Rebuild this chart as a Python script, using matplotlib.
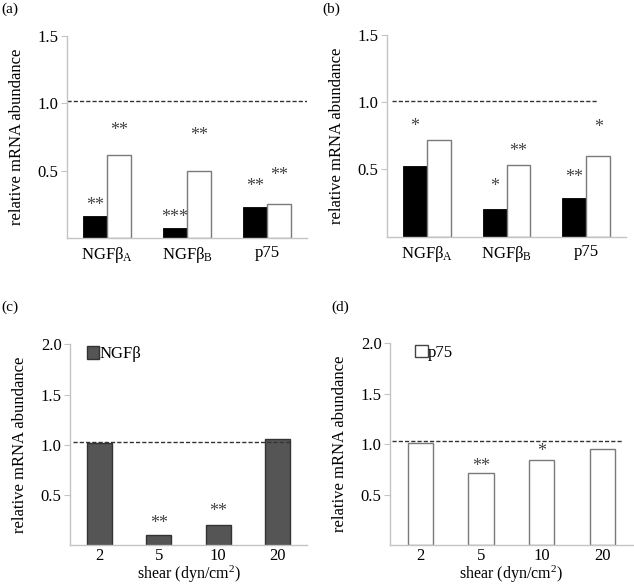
import matplotlib
matplotlib.use("Agg")
import matplotlib.pyplot as plt
from matplotlib.patches import Patch
import numpy as np

plt.rcParams['font.family'] = 'serif'
plt.rcParams['font.serif'] = ['Liberation Serif', 'DejaVu Serif']
plt.rcParams['mathtext.fontset'] = 'custom'
plt.rcParams['mathtext.rm'] = 'Liberation Serif'
plt.rcParams['mathtext.it'] = 'Liberation Serif:italic'

# ---- data ----
genes = ["NGFβ$_{\\mathrm{A}}$", "NGFβ$_{\\mathrm{B}}$", "p75"]
a_black = [0.163, 0.071, 0.232]
a_white = [0.616, 0.498, 0.256]
a_black_sig = ["**", "***", "**"]
a_white_sig = ["**", "**", "**"]
a_black_sig_y = [0.27, 0.18, 0.41]
a_white_sig_y = [0.83, 0.79, 0.49]

b_black = [0.522, 0.209, 0.286]
b_white = [0.719, 0.530, 0.596]
b_black_sig = ["*", "*", "**"]
b_white_sig = ["", "**", "*"]
b_black_sig_y = [0.85, 0.40, 0.47]
b_white_sig_y = [0.0, 0.665, 0.84]

shear = ["2", "5", "10", "20"]
c_vals = [1.013, 0.105, 0.204, 1.060]
c_sig = ["", "**", "**", ""]
c_sig_y = [0, 0.26, 0.38, 0]

d_vals = [1.013, 0.712, 0.840, 0.954]
d_sig = ["", "**", "*", ""]
d_sig_y = [0, 0.82, 0.97, 0]

ref_a = 1.02
ref_b = 1.01
ref_c = 1.026
ref_d = 1.033

SPINE = '#c4c4c4'
EDGE = '#7a7a7a'
DARK = '#555555'
STAR = '#444444'
FS = 12

fig = plt.figure(figsize=(6.34, 5.85), dpi=100)

def star(ax, x, y, s):
    ax.annotate(s, (x, y), xytext=(0, -4), textcoords='offset pixels',
                ha='center', va='center', fontsize=FS + 1, color=STAR)

def style(ax, ylim, yticks):
    for s in ['top', 'right']:
        ax.spines[s].set_visible(False)
    for s in ['left', 'bottom']:
        ax.spines[s].set_color(SPINE)
        ax.spines[s].set_linewidth(1.0)
    ax.set_ylim(*ylim)
    ax.set_yticks(yticks)
    ax.set_yticklabels([f"{t:.1f}" for t in yticks])
    ax.tick_params(axis='y', length=4, color=SPINE, labelsize=FS, pad=2)
    ax.tick_params(axis='x', length=0, labelsize=FS, pad=2)
    ax.set_ylabel("relative mRNA abundance", fontsize=FS, labelpad=9)

def grouped(ax, black, white, bsig, wsig, bsy, wsy, ref, ref_span):
    x = np.arange(len(genes))
    w = 0.3
    ax.bar(x - w / 2, black, w, color='black', edgecolor='black', linewidth=0.6)
    ax.bar(x + w / 2, white, w, color='white', edgecolor=EDGE, linewidth=1.0)
    for xi, s, y in zip(x, bsig, bsy):
        if s:
            star(ax, xi - w / 2, y, s)
    for xi, s, y in zip(x, wsig, wsy):
        if s:
            star(ax, xi + w / 2, y, s)
    ax.hlines(ref, ref_span[0], ref_span[1], colors='#333333', linestyles=(0, (3, 1.5)), linewidth=1.0)
    ax.set_xlim(-0.5, len(genes) - 0.5)
    ax.set_xticks(x)
    ax.set_xticklabels(genes)
    style(ax, (0, 1.5), [0.5, 1.0, 1.5])
    ax.tick_params(axis='x', pad=5)

def single(ax, vals, sig, sigy, face, edge, ref, ref_span, leglabel, legpos):
    x = np.arange(len(shear))
    w = 0.42
    ax.bar(x, vals, w, color=face, edgecolor=edge, linewidth=1.0)
    for xi, s, y in zip(x, sig, sigy):
        if s:
            star(ax, xi, y, s)
    ax.hlines(ref, ref_span[0], ref_span[1], colors='#333333', linestyles=(0, (3, 1.5)), linewidth=1.0)
    ax.set_xlim(-0.5, len(shear) - 0.5)
    ax.set_xticks(x)
    ax.set_xticklabels(shear)
    style(ax, (0, 2.0), [0.5, 1.0, 1.5, 2.0])
    ax.set_xlabel("shear (dyn/cm$^{2}$)", fontsize=11.5, labelpad=0)
    h = Patch(facecolor=face, edgecolor='#333333' if face != 'white' else '#444444', linewidth=1.0)
    ax.legend([h], [leglabel], loc='upper left', bbox_to_anchor=legpos, frameon=False,
              handlelength=0.75, handleheight=0.75, handletextpad=0.0, borderpad=0,
              borderaxespad=0, fontsize=FS)

ax_a = fig.add_axes([0.1057, 0.5932, 0.3785, 0.3453])
grouped(ax_a, a_black, a_white, a_black_sig, a_white_sig, a_black_sig_y, a_white_sig_y, ref_a, (-0.5, 2.52))

ax_b = fig.add_axes([0.6104, 0.5954, 0.377, 0.3456])
grouped(ax_b, b_black, b_white, b_black_sig, b_white_sig, b_black_sig_y, b_white_sig_y, ref_b, (-0.44, 2.13))

ax_c = fig.add_axes([0.1104, 0.068, 0.374, 0.3435])
single(ax_c, c_vals, c_sig, c_sig_y, DARK, '#333333', ref_c, (-0.45, 3.22), "NGFβ", (0.07, 0.99))

ax_d = fig.add_axes([0.615, 0.068, 0.383, 0.3455])
single(ax_d, d_vals, d_sig, d_sig_y, 'white', EDGE, ref_d, (-0.47, 3.34), "p75", (0.105, 0.99))

for lab, (x, y) in zip(["(a)", "(b)", "(c)", "(d)"],
                       [(0.002, 0.995), (0.508, 0.995), (0.002, 0.487), (0.523, 0.487)]):
    fig.text(x, y, lab, fontsize=11, ha='left', va='top')

fig.savefig("out.png", dpi=100)
